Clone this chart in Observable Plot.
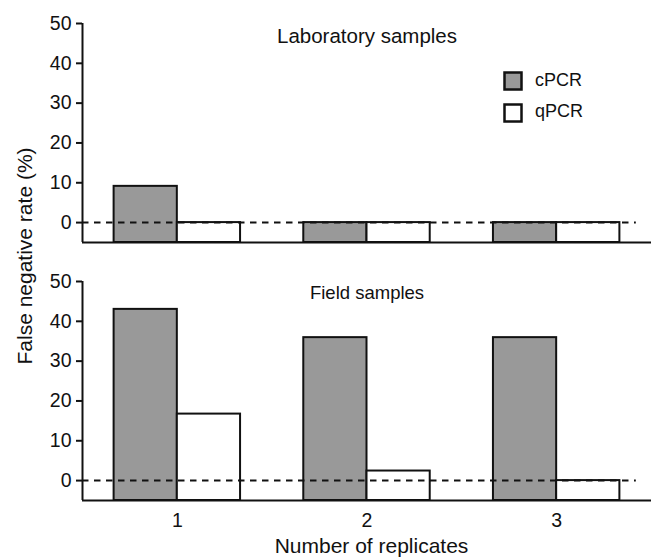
<!DOCTYPE html>
<html><head><meta charset="utf-8">
<script src="https://cdn.jsdelivr.net/npm/d3@7"></script>
<script src="https://cdn.jsdelivr.net/npm/@observablehq/plot@0.6"></script>
<style>body{margin:0;background:#fff;} #chart{position:relative;width:656px;height:557px;}</style>
</head><body><div id="chart"></div>
<script>
const panels = ["Laboratory samples", "Field samples"];
const replicates = [1, 2, 3];
const methods = ["cPCR", "qPCR"];
const labCPCR = [9.1, 0, 0];
const labQPCR = [0, 0, 0];
const fieldCPCR = [43, 35.9, 35.9];
const fieldQPCR = [16.7, 2.4, 0];
const yTicks = [0, 10, 20, 30, 40, 50];
const yDomain = [-5, 50];
const methodColors = ["#999999", "#ffffff"];
const yTitle = "False negative rate (%)";
const xTitle = "Number of replicates";

const seriesByPanel = {
  "Laboratory samples": {cPCR: labCPCR, qPCR: labQPCR},
  "Field samples": {cPCR: fieldCPCR, qPCR: fieldQPCR}
};
const rows = [];
for (const panel of panels)
  methods.forEach((m, mi) =>
    replicates.forEach((r, i) => rows.push({panel, method: m, mi, replicate: r, value: seriesByPanel[panel][m][i]})));

const xDomain = [replicates[0] - 0.5, replicates[replicates.length - 1] + 0.5];
const barW = 1 / 3;
const ink = "#111";

const plot = Plot.plot({
  width: 656, height: 557,
  marginLeft: 82, marginRight: 5, marginTop: 22.7, marginBottom: 56,
  style: {fontFamily: "'Liberation Sans', Arial, sans-serif", color: ink, background: "white"},
  x: {domain: xDomain, axis: null},
  y: {domain: yDomain, axis: null},
  fy: {domain: panels, axis: null, paddingInner: 0.151, paddingOuter: 0},
  color: {domain: methods, range: methodColors},
  marks: [
    Plot.rectY(rows, {
      fy: "panel",
      x1: d => d.replicate - barW + d.mi * barW,
      x2: d => d.replicate + d.mi * barW,
      y1: yDomain[0], y2: "value",
      fill: "method", stroke: ink, strokeWidth: 2
    }),
    Plot.ruleY([0], {x1: xDomain[0], x2: 3.42, stroke: ink, strokeWidth: 2, strokeDasharray: "6.5,5.5"}),
    Plot.ruleX([xDomain[0]], {stroke: ink, strokeWidth: 2}),
    Plot.ruleY([yDomain[0]], {stroke: ink, strokeWidth: 2}),
    Plot.axisY({ticks: yTicks, tickSize: 6, tickPadding: 5, fontSize: 19.5, label: null, strokeWidth: 2}),
    Plot.axisX({ticks: replicates, tickSize: 0, tickPadding: 12.5, fontSize: 19.5, label: null, tickFormat: d => String(d)}),
    Plot.text(panels, {
      fy: d => d, text: d => d, frameAnchor: "top", lineAnchor: "top", dy: 4.5,
      fontSize: d => (d === panels[0] ? 20.5 : 18.5), fill: ink
    })
  ]
});

const svg = d3.select(plot);
svg.append("text")
  .attr("transform", "translate(31.5,256) rotate(-90)")
  .attr("text-anchor", "middle").attr("font-size", 21).attr("fill", ink)
  .text(yTitle);
svg.append("text")
  .attr("x", 371.5).attr("y", 552.5)
  .attr("text-anchor", "middle").attr("font-size", 21).attr("fill", ink)
  .text(xTitle);
const lg = svg.append("g").attr("font-size", 18).attr("fill", ink).attr("text-anchor", "start");
methods.forEach((m, i) => {
  lg.append("rect").attr("x", 504.5).attr("y", 72.5 + i * 32).attr("width", 17).attr("height", 17)
    .attr("fill", methodColors[i]).attr("stroke", ink).attr("stroke-width", 2.5);
  lg.append("text").attr("x", 535).attr("y", 86 + i * 31).text(m);
});
document.getElementById("chart").appendChild(plot);
</script>
</body></html>
